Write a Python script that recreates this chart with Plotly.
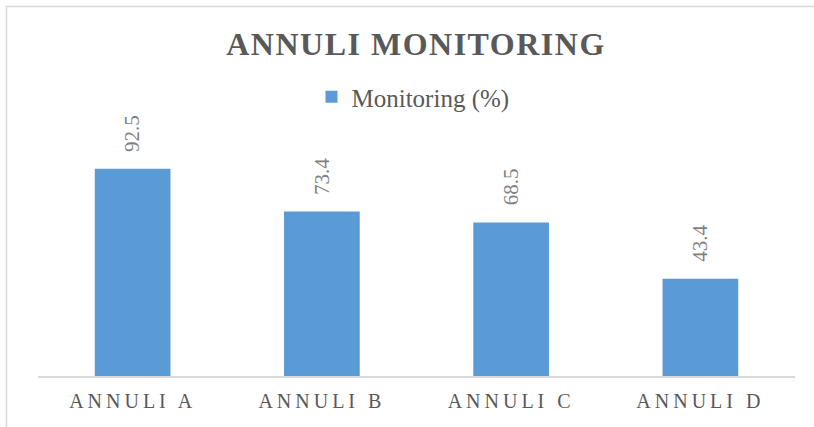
import plotly.graph_objects as go

categories = ["ANNULI A", "ANNULI B", "ANNULI C", "ANNULI D"]
values = [92.5, 73.4, 68.5, 43.4]
series_name = "Monitoring (%)"
title_text = "ANNULI MONITORING"

W, H = 814, 427
ml, mr, mt, mb = 38, 19, 152, 51
plot_w = W - ml - mr
plot_h = H - mt - mb

fig = go.Figure()
fig.add_trace(go.Bar(
    x=categories, y=values, name=series_name,
    marker=dict(color="#5b9bd5", line=dict(width=0)),
    showlegend=True,
))

for c, v in zip(categories, values):
    fig.add_annotation(
        x=c, y=v, xref="x", yref="y", text=f"{v}", showarrow=False,
        textangle=-90, yanchor="bottom", xanchor="center", yshift=15,
        font=dict(family="Liberation Serif", size=21, color="#7f7f7f"),
    )

# chart border (top & left visible in the crop)
fig.add_shape(type="rect", xref="paper", yref="paper",
              x0=(6.5 - ml) / plot_w, x1=(W + 20 - ml) / plot_w,
              y0=-(H + 20 - mt - plot_h) / plot_h, y1=(H - 6.5 - mb) / plot_h,
              line=dict(color="#d9d9d9", width=1.5), layer="below")

fig.update_layout(
    width=W, height=H,
    margin=dict(l=ml, r=mr, t=mt, b=mb, pad=0),
    paper_bgcolor="white", plot_bgcolor="white",
    font=dict(family="Liberation Serif", color="#595959"),
    title=dict(text=f"<b>{title_text}</b>", x=416 / W, xanchor="center",
               y=1 - 44 / H, yanchor="middle", yref="container",
               font=dict(family="Liberation Serif", size=32, color="#595959")),
    bargap=0.6,
    legend=dict(orientation="h", x=(413 - ml) / plot_w, xanchor="center",
                y=(H - mb - 97) / plot_h, yanchor="middle",
                font=dict(family="Liberation Serif", size=25, color="#595959"),
                bgcolor="rgba(0,0,0,0)", itemwidth=30),
    xaxis=dict(showgrid=False, showline=True, linecolor="#d9d9d9", linewidth=2,
               ticks="", ticklabelstandoff=6,
               tickfont=dict(family="Liberation Serif", size=20, color="#595959"),
               fixedrange=True),
    yaxis=dict(range=[0, 100], visible=False, showgrid=False, zeroline=False,
               fixedrange=True),
)

post = """
document.body.style.margin = '0';
var gd = document.getElementById('{plot_id}');
gd.querySelectorAll('.xtick text').forEach(function(t){ t.style.letterSpacing = '4px'; });
var tt = gd.querySelector('.gtitle');
if (tt) { tt.style.letterSpacing = '1.5px'; }
"""

fig.write_html("out.html", post_script=post, config={"displayModeBar": False})
